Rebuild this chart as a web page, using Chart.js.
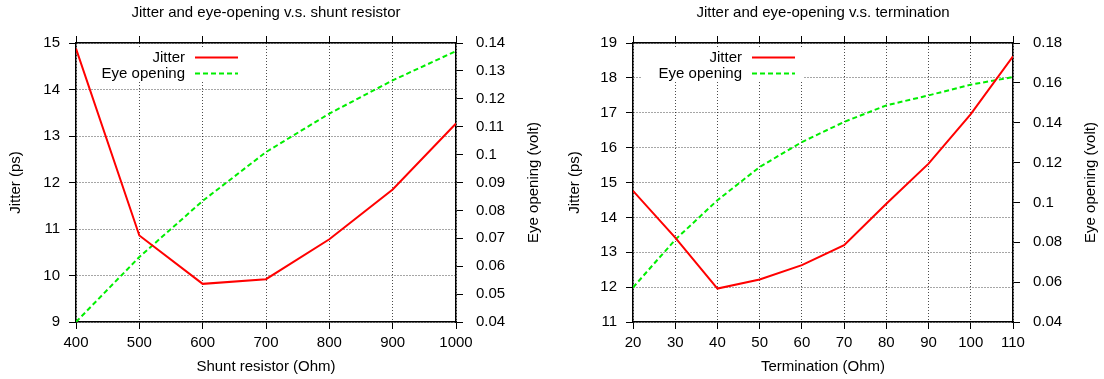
<!DOCTYPE html>
<html>
<head>
<meta charset="utf-8">
<script src="https://cdn.jsdelivr.net/npm/chart.js@4.4.1/dist/chart.umd.min.js"></script>
<style>
  body { margin: 0; background: #fff; }
  .panel { position: absolute; top: 0; width: 552px; height: 379px; }
</style>
</head>
<body>
<div class="panel" style="left:0"><canvas id="shunt" width="552" height="379"></canvas></div>
<div class="panel" style="left:552px"><canvas id="term" width="552" height="379"></canvas></div>
<script>
// ---------- DATA ----------
const shuntOhm = [400, 500, 600, 700, 800, 900, 1000];
const shuntJitter = [14.88, 10.86, 9.82, 9.92, 10.78, 11.85, 13.27];
const shuntEye = [0.040, 0.0633, 0.0834, 0.1009, 0.1147, 0.1266, 0.1371];

const termOhm = [20, 30, 40, 50, 60, 70, 80, 90, 100, 110];
const termJitter = [14.76, 13.42, 11.96, 12.22, 12.63, 13.2, 14.39, 15.54, 16.96, 18.62];
const termEye = [0.0573, 0.0813, 0.1011, 0.1178, 0.1303, 0.1404, 0.1487, 0.1537, 0.1591, 0.1629];

const shuntXTicks = [400, 500, 600, 700, 800, 900, 1000];
const shuntYTicks = [9, 10, 11, 12, 13, 14, 15];
const shuntY2Ticks = [0.04, 0.05, 0.06, 0.07, 0.08, 0.09, 0.1, 0.11, 0.12, 0.13, 0.14];

const termXTicks = [20, 30, 40, 50, 60, 70, 80, 90, 100, 110];
const termYTicks = [11, 12, 13, 14, 15, 16, 17, 18, 19];
const termY2Ticks = [0.04, 0.06, 0.08, 0.1, 0.12, 0.14, 0.16, 0.18];

const FONT = "'Liberation Sans', Arial, Helvetica, sans-serif";
Chart.defaults.font.family = FONT;
Chart.defaults.font.size = 15;
Chart.defaults.color = '#000';

// legend box inside the plot, gnuplot style
const keyBox = {
  id: 'keyBox',
  beforeDatasetsDraw(chart) {
    const { ctx, chartArea: a } = chart;
    ctx.save();
    ctx.fillStyle = '#fff';
    ctx.fillRect(a.left + 9, a.top + 5, 161, 34);
    ctx.restore();
  },
  afterDatasetsDraw(chart) {
    const { ctx, chartArea: a } = chart;
    ctx.save();
    ctx.font = '15px ' + FONT;
    ctx.textAlign = 'right';
    ctx.textBaseline = 'middle';
    chart.data.datasets.forEach((ds, i) => {
      const y = a.top + 14.5 + i * 16;
      ctx.fillStyle = '#000';
      ctx.fillText(ds.label, a.left + 109, y);
      ctx.strokeStyle = ds.borderColor;
      ctx.lineWidth = ds.borderWidth;
      ctx.setLineDash(ds.borderDash || []);
      ctx.beginPath();
      ctx.moveTo(a.left + 119, y);
      ctx.lineTo(a.left + 162, y);
      ctx.stroke();
    });
    ctx.restore();
  }
};

// right axis title reads bottom-to-top like the left one
const y2Title = {
  id: 'y2Title',
  afterDraw(chart) {
    const s = chart.scales.y2;
    const ctx = chart.ctx;
    ctx.save();
    ctx.font = '15px ' + FONT;
    ctx.fillStyle = '#000';
    ctx.textAlign = 'center';
    ctx.textBaseline = 'middle';
    ctx.translate(s.left + 78, (s.top + s.bottom) / 2);
    ctx.rotate(-Math.PI / 2);
    ctx.fillText(s.options.title.text, 0, 0);
    ctx.restore();
  }
};

function useTicks(list) {
  return s => { s.ticks = list.map(v => ({ value: v })); };
}

function makeChart(id, cfg) {
  const grid = { color: 'rgba(0,0,0,0.7)', lineWidth: 1, tickLength: 7, tickColor: '#000', tickWidth: 1 };
  const border = { color: '#000', width: 1.5, dash: [1, 2] };
  return new Chart(document.getElementById(id), {
    type: 'line',
    data: {
      datasets: [
        {
          label: 'Jitter',
          data: cfg.x.map((x, i) => ({ x: x, y: cfg.jitter[i] })),
          borderColor: '#ff0000',
          borderWidth: 2,
          pointRadius: 0,
          tension: 0,
          yAxisID: 'y',
        },
        {
          label: 'Eye opening',
          data: cfg.x.map((x, i) => ({ x: x, y: cfg.eye[i] })),
          borderColor: '#00ee00',
          borderWidth: 2,
          borderDash: [5, 3],
          pointRadius: 0,
          tension: 0,
          yAxisID: 'y2',
        },
      ],
    },
    options: {
      responsive: false,
      animation: false,
      layout: { padding: 0 },
      plugins: {
        legend: { display: false },
        tooltip: { enabled: false },
        title: {
          display: true,
          text: cfg.title,
          fullSize: false,
          font: { size: 15, weight: 'normal' },
          padding: { top: 4, bottom: 21 },
        },
      },
      scales: {
        x: {
          type: 'linear',
          position: 'bottom',
          min: cfg.xTicks[0],
          max: cfg.xTicks[cfg.xTicks.length - 1],
          afterBuildTicks: useTicks(cfg.xTicks),
          afterFit: s => { s.height = 57; },
          ticks: { padding: 5, maxRotation: 0, autoSkip: false, callback: v => String(v) },
          grid: grid,
          border: border,
          title: { display: true, text: cfg.xTitle, padding: { top: 0, bottom: 3 } },
        },
        x2: {
          type: 'linear',
          position: 'top',
          min: cfg.xTicks[0],
          max: cfg.xTicks[cfg.xTicks.length - 1],
          afterBuildTicks: useTicks(cfg.xTicks),
          afterFit: s => { s.height = 0; },
          ticks: { display: false },
          grid: Object.assign({}, grid, { drawOnChartArea: false }),
          border: border,
        },
        y: {
          type: 'linear',
          position: 'left',
          min: cfg.yTicks[0],
          max: cfg.yTicks[cfg.yTicks.length - 1],
          afterBuildTicks: useTicks(cfg.yTicks),
          afterFit: s => { s.width = cfg.leftW; },
          ticks: { padding: 9, callback: v => String(v) },
          grid: grid,
          border: border,
          title: { display: true, text: 'Jitter (ps)', padding: { top: cfg.leftTitlePad, bottom: 0 } },
        },
        y2: {
          type: 'linear',
          position: 'right',
          min: cfg.y2Ticks[0],
          max: cfg.y2Ticks[cfg.y2Ticks.length - 1],
          afterBuildTicks: useTicks(cfg.y2Ticks),
          afterFit: s => { s.width = cfg.rightW; },
          ticks: { padding: 13, callback: v => String(+v.toFixed(2)) },
          grid: Object.assign({}, grid, { drawOnChartArea: false }),
          border: border,
          title: { display: false, text: 'Eye opening (volt)' },
        },
      },
    },
    plugins: [keyBox, y2Title],
  });
}

const shuntChart = makeChart('shunt', {
  title: 'Jitter and eye-opening v.s. shunt resistor',
  xTitle: 'Shunt resistor (Ohm)',
  x: shuntOhm, jitter: shuntJitter, eye: shuntEye,
  xTicks: shuntXTicks, yTicks: shuntYTicks, y2Ticks: shuntY2Ticks,
  leftW: 76, rightW: 96, leftTitlePad: 7,
});

const termChart = makeChart('term', {
  title: 'Jitter and eye-opening v.s. termination',
  xTitle: 'Termination (Ohm)',
  x: termOhm, jitter: termJitter, eye: termEye,
  xTicks: termXTicks, yTicks: termYTicks, y2Ticks: termY2Ticks,
  leftW: 81, rightW: 91, leftTitlePad: 14,
});
</script>
</body>
</html>
